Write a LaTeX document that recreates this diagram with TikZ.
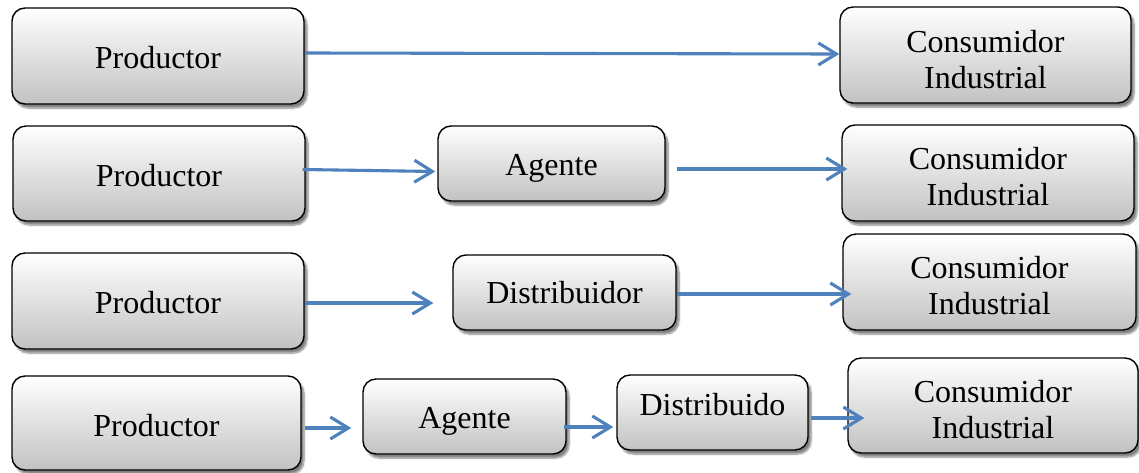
\documentclass[tikz,border=0pt]{standalone}
\usepackage{fontspec}
\setmainfont{Liberation Serif}
\usetikzlibrary{arrows.meta,calc,shadows.blur}
\definecolor{flowblue}{HTML}{4F81BD}
% one line of box text, drawn #1 higher without changing its size
\newcommand\boxline[2]{\raisebox{#1}[\height][\depth]{#2}}
% two stacked lines of box text, drawn #1 higher without changing their size
\newcommand\boxlines[3]{\raisebox{#1}[\height][\depth]{\begin{tabular}{@{}c@{}}#2\\#3\end{tabular}}}
\tikzset{
  box/.style={draw=black, line width=1.4pt, rounded corners=13pt,
    top color=white, bottom color=black!24,
    blur shadow={shadow xshift=3pt, shadow yshift=-4pt, shadow blur steps=6, shadow opacity=50},
    align=center, inner sep=0pt,
    font=\fontsize{32}{36}\selectfont},
  flow/.style={draw=flowblue, line width=3.1pt,
    -{Straight Barb[length=18pt, width=22pt, line width=3.1pt]}},
}
\begin{document}
\begin{tikzpicture}[x=1pt, y=-1pt]
\useasboundingbox (0,0) rectangle (1139,472);

% row 1: producer straight to industrial consumer
\node[box, minimum width=292pt, minimum height=96pt] (p1) at (158,56) {\boxline{-2pt}{Productor}};
\node[box, minimum width=291pt, minimum height=96pt] (c1) at (985.5,55) {\boxlines{-8pt}{Consumidor}{Industrial}};

% row 2: through an agent
\node[box, minimum width=292pt, minimum height=95pt] (p2) at (159,173.5) {\boxline{-2pt}{Productor}};
\node[box, minimum width=227pt, minimum height=75pt] (a2) at (551.5,163.5) {\boxline{-5pt}{Agente}};
\node[box, minimum width=292pt, minimum height=96pt] (c2) at (988,173) {\boxlines{-7.5pt}{Consumidor}{Industrial}};

% row 3: through a distributor
\node[box, minimum width=292pt, minimum height=96pt] (p3) at (158,301) {\boxline{-2pt}{Productor}};
\node[box, minimum width=223pt, minimum height=75pt] (d3) at (564.5,292.5) {Distribuidor};
\node[box, minimum width=293pt, minimum height=96pt] (c3) at (989.5,282) {\boxlines{-7.5pt}{Consumidor}{Industrial}};

% row 4: agent and distributor
\node[box, minimum width=289pt, minimum height=94pt] (p4) at (156.5,423) {\boxline{-3pt}{Productor}};
\node[box, minimum width=203pt, minimum height=75pt] (a4) at (464.5,416.5) {\boxline{-5pt}{Agente}};
\node[box, minimum width=191pt, minimum height=75pt] (d4) at (712.5,412.5) {\boxline{8pt}{Distribuido}};
\node[box, minimum width=290pt, minimum height=95pt] (c4) at (993,405.5) {\boxlines{-7.5pt}{Consumidor}{Industrial}};

% connectors
\draw[flow] ($(p1.east)+(1,-3)$) -- ($(c1.west)+(0,-1)$);

\draw[flow] ($(p2.east)+(-3,-4)$) -- ($(a2.west)+(-2,8)$);
\draw[flow] ($(a2.east)+(11,5.5)$) -- ($(c2.west)+(6,-4)$);

\draw[flow] ($(p3.east)+(0,2)$) -- ($(d3.west)+(-19,10.5)$);
\draw[flow] ($(d3.east)+(0,1.5)$) -- ($(c3.west)+(9,12)$);

\draw[flow] ($(p4.east)+(3,5)$) -- ($(a4.west)+(-11,11.5)$);
\draw[flow] ($(a4.east)+(-3,10.5)$) -- ($(d4.west)+(-3,14.5)$);
\draw[flow] ($(d4.east)+(2,5.5)$) -- ($(c4.west)+(17,12.5)$);
\end{tikzpicture}
\end{document}
